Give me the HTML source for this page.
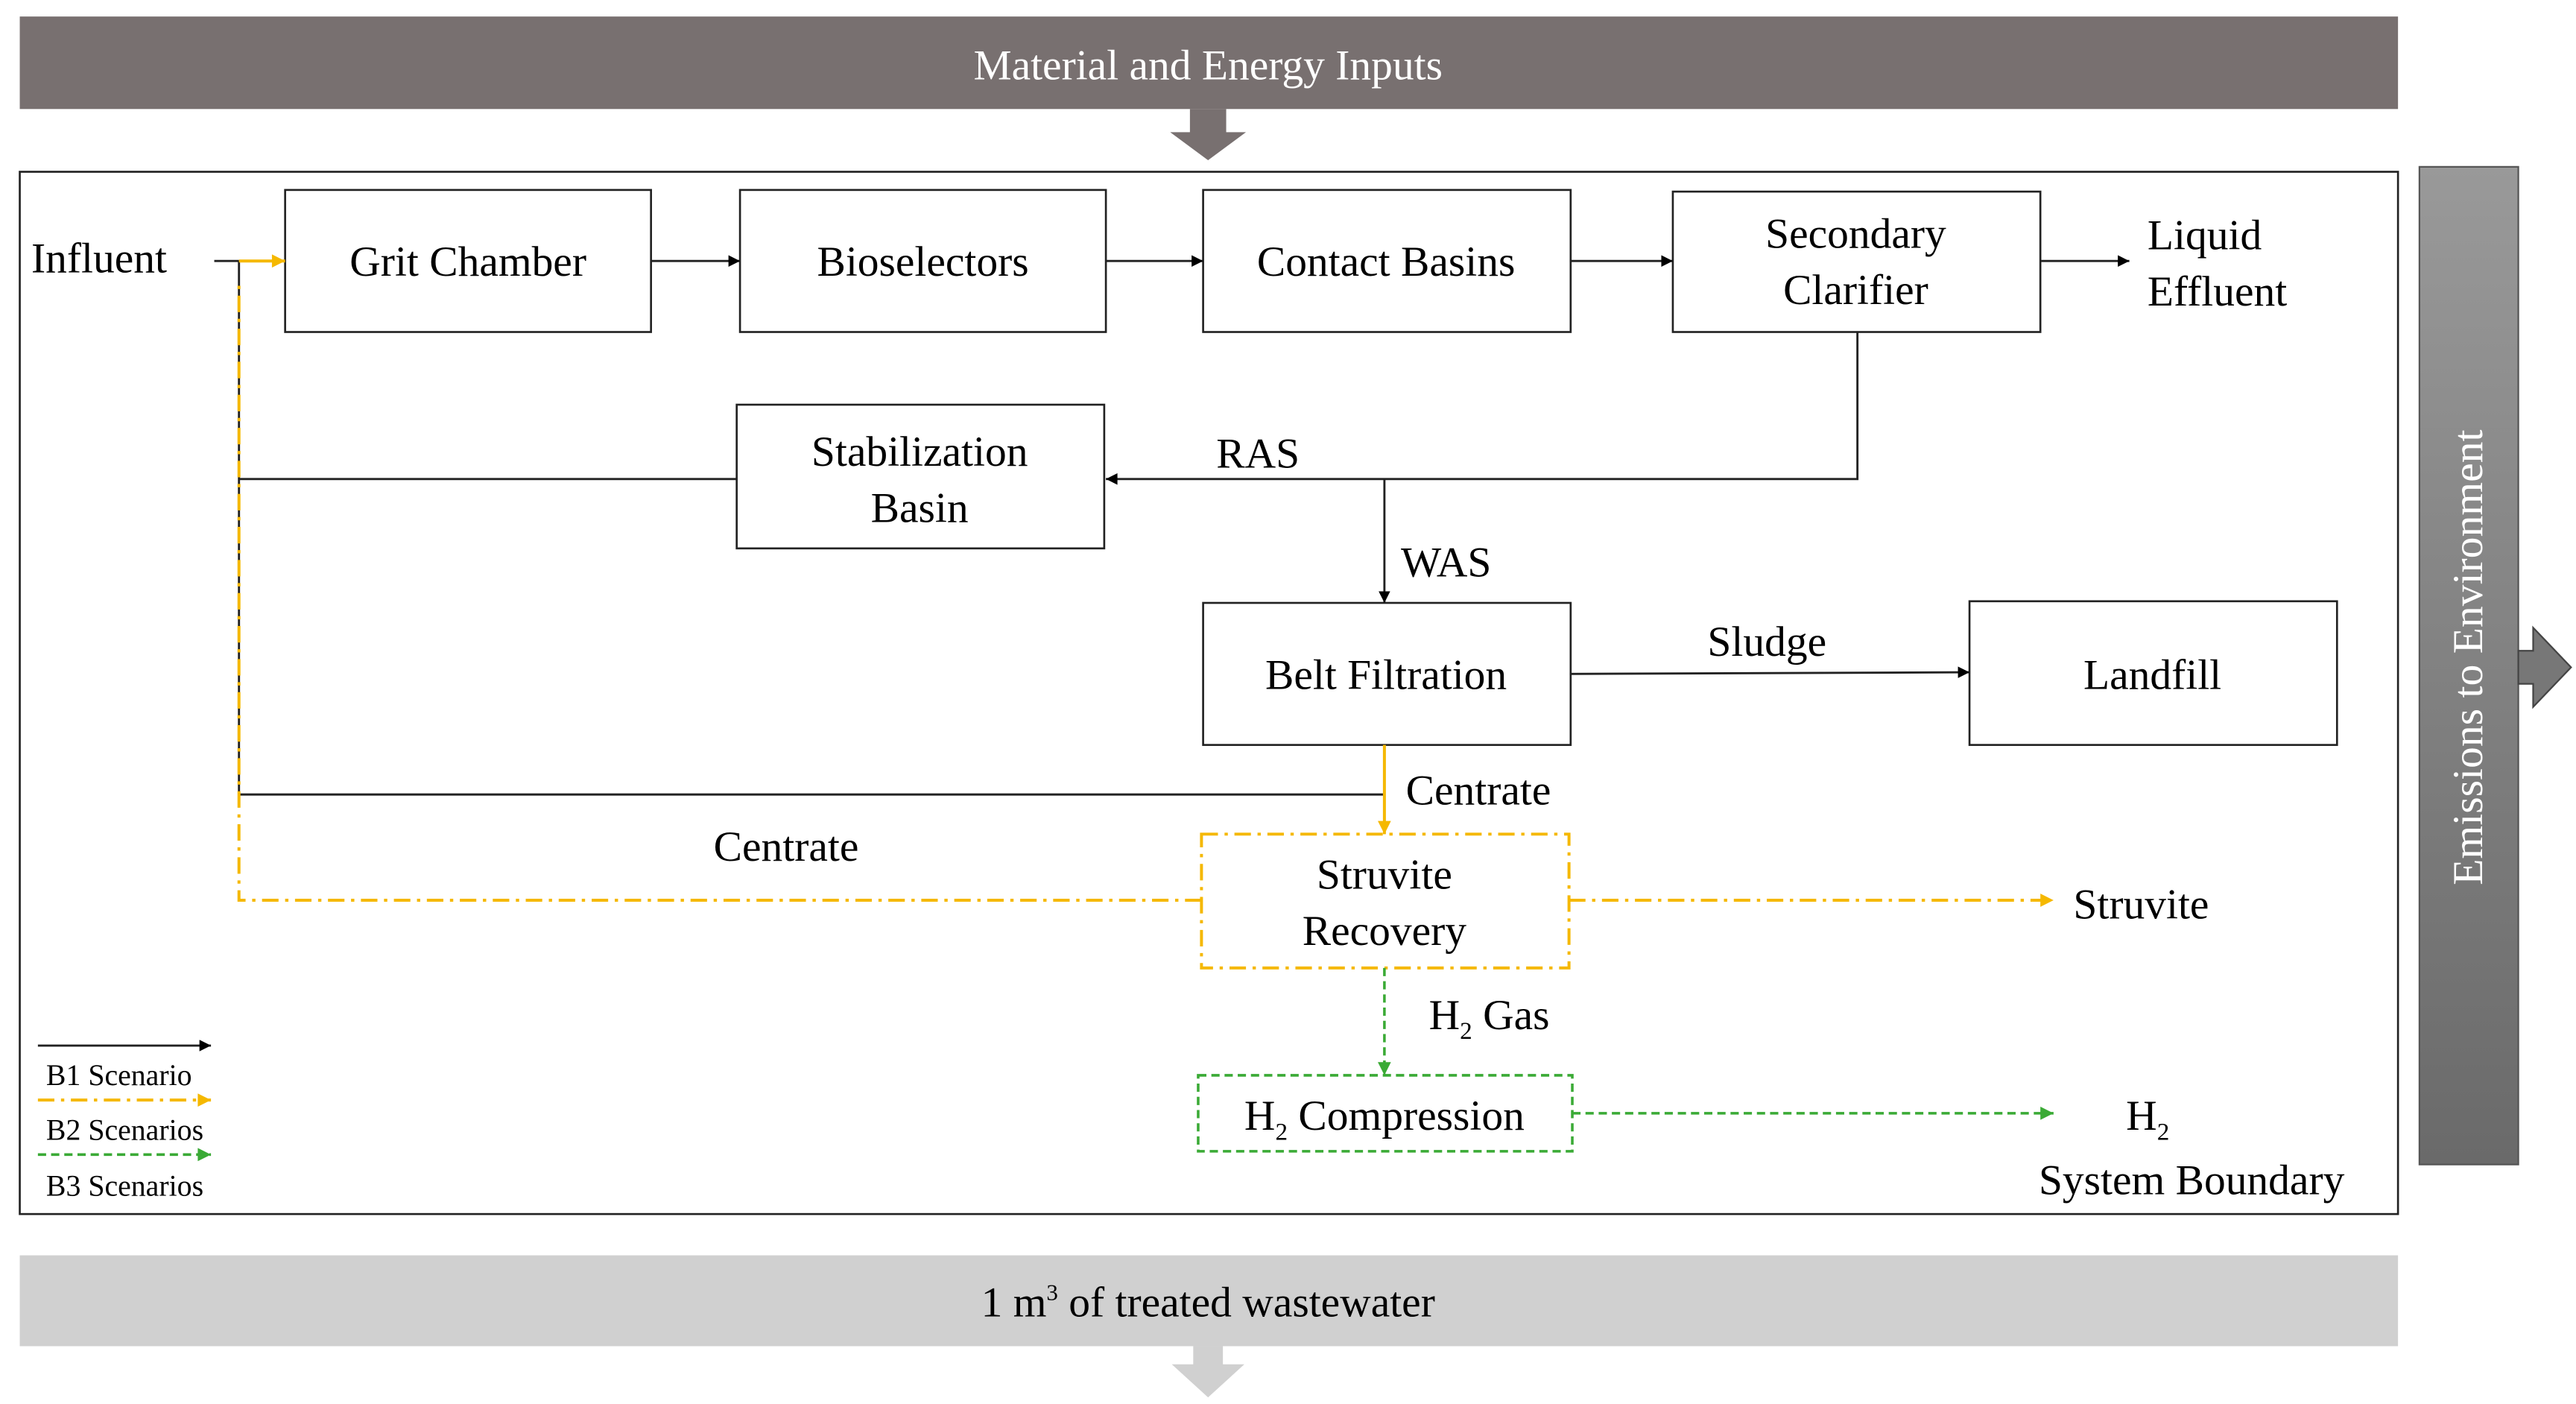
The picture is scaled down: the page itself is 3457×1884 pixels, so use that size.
<!DOCTYPE html>
<html><head><meta charset="utf-8"><style>
html,body{margin:0;padding:0;background:#fff}
svg{display:block}
text{font-family:"Liberation Serif",serif;fill:#000}
</style></head><body>
<svg width="3457" height="1884" viewBox="0 0 1563 850" preserveAspectRatio="none" xmlns="http://www.w3.org/2000/svg">
<defs>
<marker id="ab" viewBox="0 0 10 10" refX="10" refY="5" markerWidth="9" markerHeight="7" markerUnits="userSpaceOnUse" orient="auto"><path d="M0,0L10,5L0,10z" fill="#000"/></marker>
<marker id="ao" viewBox="0 0 10 10" refX="10" refY="5" markerWidth="9" markerHeight="8" markerUnits="userSpaceOnUse" orient="auto"><path d="M0,0L10,5L0,10z" fill="#f5b800"/></marker>
<marker id="ag" viewBox="0 0 10 10" refX="10" refY="5" markerWidth="9" markerHeight="8" markerUnits="userSpaceOnUse" orient="auto"><path d="M0,0L10,5L0,10z" fill="#3aaa35"/></marker>
<linearGradient id="gr" x1="0" y1="0" x2="0" y2="1"><stop offset="0" stop-color="#999"/><stop offset="1" stop-color="#6a6a6a"/></linearGradient>
</defs>
<rect x="12" y="10" width="1443" height="56" fill="#787070"/>
<text x="733" y="48" font-size="26" text-anchor="middle" style="fill:#fff">Material and Energy Inputs</text>
<path d="M722,66H744V80H756L733,97L710,80H722Z" fill="#787070"/>
<rect x="12" y="104" width="1443" height="631" fill="none" stroke="#222" stroke-width="1.2"/>
<rect x="1468" y="101" width="60" height="604" fill="url(#gr)" stroke="#555" stroke-width="1"/>
<path d="M1528,394H1537V380L1560,404L1537,428V414H1528Z" fill="#777" stroke="#444" stroke-width="1"/>
<text transform="translate(1506,398) rotate(-90)" font-size="26" text-anchor="middle" style="fill:#fff">Emissions to Environment</text>
<rect x="12" y="760" width="1443" height="55" fill="#d0d0d0"/>
<text x="733" y="797" font-size="26" text-anchor="middle">1 m<tspan font-size="14" dy="-10">3</tspan><tspan dy="10"> of treated wastewater</tspan></text>
<path d="M724,815H742V826H755L733,846L711,826H724Z" fill="#d0d0d0"/>
<g fill="#fff" stroke="#222" stroke-width="1.2">
<rect x="173" y="115" width="222" height="86"/>
<rect x="449" y="115" width="222" height="86"/>
<rect x="730" y="115" width="223" height="86"/>
<rect x="1015" y="116" width="223" height="85"/>
<rect x="447" y="245" width="223" height="87"/>
<rect x="730" y="365" width="223" height="86"/>
<rect x="1195" y="364" width="223" height="87"/>
</g>
<rect x="729" y="505" width="223" height="81" fill="none" stroke="#f5b800" stroke-width="1.8" stroke-dasharray="10,4,2,4"/>
<rect x="727" y="651" width="227" height="46" fill="none" stroke="#3aaa35" stroke-width="1.6" stroke-dasharray="5,3"/>
<g font-size="26" text-anchor="middle">
<text x="284" y="167">Grit Chamber</text>
<text x="560" y="167">Bioselectors</text>
<text x="841" y="167">Contact Basins</text>
<text x="1126" y="150">Secondary</text>
<text x="1126" y="184">Clarifier</text>
<text x="558" y="282">Stabilization</text>
<text x="558" y="316">Basin</text>
<text x="841" y="417">Belt Filtration</text>
<text x="1306" y="417">Landfill</text>
<text x="840" y="538">Struvite</text>
<text x="840" y="572">Recovery</text>
<text x="840" y="684">H<tspan font-size="15" dy="6">2</tspan><tspan dy="-6"> Compression</tspan></text>
</g>
<g font-size="26">
<text x="19" y="165">Influent</text>
<text x="1303" y="151">Liquid</text>
<text x="1303" y="185">Effluent</text>
<text x="738" y="283">RAS</text>
<text x="850" y="349">WAS</text>
<text x="1036" y="397">Sludge</text>
<text x="853" y="487">Centrate</text>
<text x="433" y="521">Centrate</text>
<text x="1258" y="556">Struvite</text>
<text x="867" y="623">H<tspan font-size="15" dy="6">2</tspan><tspan dy="-6"> Gas</tspan></text>
<text x="1290" y="684">H<tspan font-size="15" dy="6">2</tspan></text>
<text x="1237" y="723">System Boundary</text>
</g>
<g stroke="#222" stroke-width="1.3" fill="none">
<line x1="130" y1="158" x2="145" y2="158"/>
<line x1="395" y1="158" x2="449" y2="158" marker-end="url(#ab)"/>
<line x1="671" y1="158" x2="730" y2="158" marker-end="url(#ab)"/>
<line x1="953" y1="158" x2="1015" y2="158" marker-end="url(#ab)"/>
<line x1="1238" y1="158" x2="1292" y2="158" marker-end="url(#ab)"/>
<polyline points="1127,201 1127,290 671,290" marker-end="url(#ab)"/>
<line x1="840" y1="290" x2="840" y2="365" marker-end="url(#ab)"/>
<line x1="953" y1="408" x2="1195" y2="407" marker-end="url(#ab)"/>
<polyline points="447,290 145,290"/>
<polyline points="145,158 145,481 840,481 840,451"/>
</g>
<g stroke="#f5b800" stroke-width="1.8" fill="none">
<line x1="145" y1="158" x2="173" y2="158" marker-end="url(#ao)"/>
<line x1="840" y1="451" x2="840" y2="505" marker-end="url(#ao)"/>
<polyline points="729,545 145,545 145,170" stroke-dasharray="10,4,2,4"/>
<line x1="952" y1="545" x2="1246" y2="545" stroke-dasharray="10,4,2,4" marker-end="url(#ao)"/>
<line x1="23" y1="666" x2="128" y2="666" stroke-dasharray="10,4,2,4" marker-end="url(#ao)"/>
</g>
<g stroke="#3aaa35" stroke-width="1.6" fill="none" stroke-dasharray="5,3">
<line x1="840" y1="586" x2="840" y2="651" marker-end="url(#ag)"/>
<line x1="954" y1="674" x2="1246" y2="674" marker-end="url(#ag)"/>
<line x1="23" y1="699" x2="128" y2="699" marker-end="url(#ag)"/>
</g>
<line x1="23" y1="633" x2="128" y2="633" stroke="#222" stroke-width="1.3" marker-end="url(#ab)"/>
<g font-size="18">
<text x="28" y="657">B1 Scenario</text>
<text x="28" y="690">B2 Scenarios</text>
<text x="28" y="724">B3 Scenarios</text>
</g>
</svg>
</body></html>
